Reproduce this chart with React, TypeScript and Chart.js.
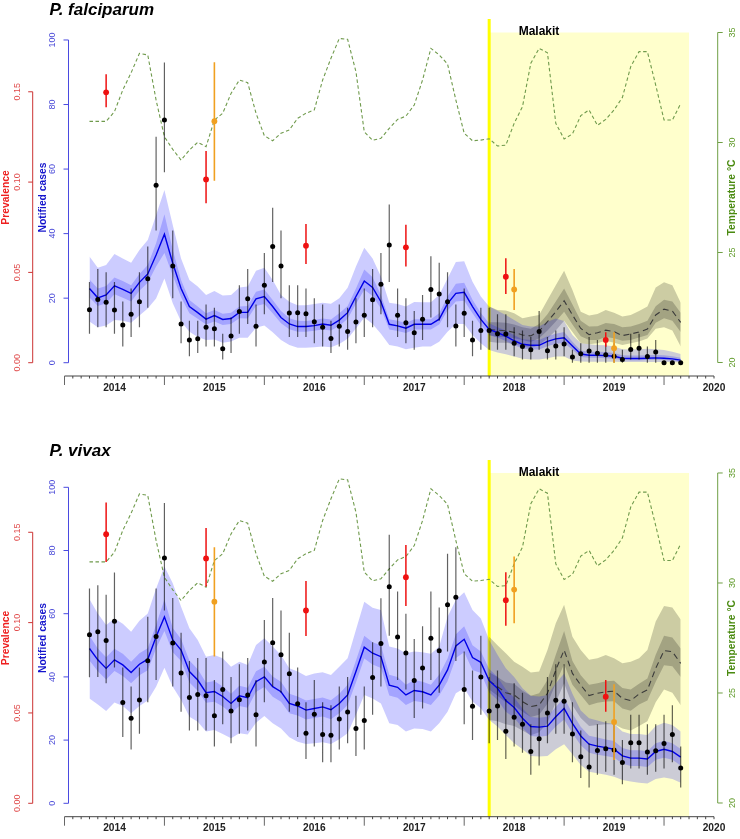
import { useEffect, useRef } from "react";
import { Chart, registerables } from "chart.js";

Chart.register(...registerables);

// monthly series, Oct 2013 to Sep 2019
const months = Array.from({ length: 72 }, (_, i) => 2013.75 + i / 12);
const yearLabels = [2014, 2015, 2016, 2017, 2018, 2019, 2020];
const caseTicks = [0, 20, 40, 60, 80, 100];
const prevTicks = ["0.00", "0.05", "0.10", "0.15"];
const tempTicks = [20, 25, 30, 35];
const interventionStart = 48;

const temperature = [
  30.96, 30.96, 30.96, 31.4, 32.39, 33.17, 34.05, 33.98, 31.93, 30.26, 29.69, 29.2,
  29.66, 30.01, 29.81, 31.02, 31.33, 32.23, 32.84, 32.72, 31.33, 30.31, 30.08, 30.42,
  30.57, 31.1, 31.33, 31.48, 32.84, 33.83, 34.73, 34.69, 33.22, 30.49, 30.1, 30.19,
  30.64, 31.05, 31.2, 31.7, 32.84, 34.28, 33.98, 33.57, 31.93, 30.42, 30.08, 30.11,
  30.17, 29.84, 29.88, 30.87, 31.63, 33.6, 34.28, 34.08, 30.87, 30.16, 30.39, 31.22,
  31.48, 30.78, 31.05, 31.48, 32.05, 33.45, 34.13, 34.13, 32.61, 31.02, 31.02, 31.77,
];

// P. falciparum
const falObserved = [
  16.4, 19.6, 18.7, 16.3, 11.7, 15, 18.9, 26, 55, 75.2, 30, 12,
  7, 7.4, 11, 10.5, 4.3, 8.3, 15.9, 19.8, 11.3, 24, 36, 30,
  15.4, 15.5, 15.2, 12.7, 11, 7.5, 11.3, 9.7, 12.6, 14.7, 19.5, 24.3,
  36.5, 14.7, 12.4, 9.3, 13.5, 22.7, 21.3, 18.9, 11.4, 15.3, 7, 10,
  10, 9, 8.9, 6, 5, 4, 9.7, 3.7, 5.2, 5.8, 1.8, 2.8,
  3.6, 2.9, 2.5, 2, 1, 4.1, 4.5, 1.9, 3.3, 0, 0, 0,
];
const falObservedHi = [
  25, 29, 28, 25, 19, 23, 28, 36, 70, 93, 41, 19,
  13, 13, 18, 17, 9, 14, 24, 29, 18, 34, 48, 41,
  24, 24, 23, 20, 18, 13, 18, 17, 20, 23, 29, 34,
  49, 23, 20, 16, 21, 33, 31, 28, 18, 23, 13, 17,
  17, 15, 15, 11, 10, 8, 16, 8, 10, 11, 4, 6,
  8, 7, 6, 6, 4, 9, 9, 5, 7, 0, 0, 0,
];
const falObservedLo = [
  9, 11, 11, 9, 5, 8, 11, 17, 41, 59, 20, 6,
  2, 3, 5, 5, 1, 3, 9, 12, 5, 15, 25, 20,
  8, 8, 8, 6, 5, 3, 5, 4, 6, 8, 11, 15,
  25, 8, 6, 4, 7, 14, 13, 11, 5, 8, 2, 4,
  4, 4, 4, 2, 1, 1, 4, 1, 1, 2, 0, 0,
  0, 0, 0, 0, 0, 1, 1, 0, 0, 0, 0, 0,
];
const falFit = [
  23, 20.1, 21, 23.8, 22.7, 21.5, 24.9, 27.5, 33.4, 39.8, 30.8, 23,
  17.4, 15.5, 13.5, 14.6, 13.4, 13.7, 15.6, 15.6, 19.8, 20.5, 17.4, 14,
  12, 11.2, 11.2, 11.5, 12, 11.6, 13.2, 15.5, 20.5, 25.3, 23.3, 18.9,
  11.9, 11.4, 10.7, 11.9, 11.9, 11.9, 13.5, 18.3, 21.5, 21.8, 17.4, 13.4,
  10.3, 9.3, 8.2, 6.8, 5.7, 5.4, 5.4, 6.6, 7.4, 7.7, 5.2, 2.7,
  2.3, 2.3, 2.2, 2, 1.4, 1.3, 1.3, 1.4, 1.5, 1.4, 1.2, 0.8,
];
const falOuterHi = [
  32.9, 29.4, 30.3, 33.7, 32.3, 31, 34.9, 38, 45.8, 53.5, 42.7, 32.3,
  25.6, 23.6, 21, 22.2, 20.8, 21, 23.3, 23.6, 28.5, 29.4, 25.6, 21,
  18.9, 17.8, 17.8, 18.2, 18.6, 18.3, 20, 23.2, 29.8, 35.6, 32.3, 26.7,
  18.6, 18.2, 17.4, 18.8, 18.7, 18.7, 21, 26.1, 31.2, 31.4, 25.1, 20.5,
  17.4, 16.1, 14.8, 13.2, 11.7, 11.2, 11.2, 12.7, 13.7, 12.9, 8.6, 6,
  5.7, 5.5, 5.4, 5, 4.2, 4.1, 4.2, 4.3, 4.2, 3.9, 3.4, 2.7,
];
const falOuterLo = [
  12.8, 11, 11.5, 13.2, 13, 12.4, 14.6, 16.8, 19.9, 26.1, 18.4, 12.8,
  9.6, 8, 7, 7.2, 6.2, 6.6, 7.7, 7.7, 10.8, 11.5, 9.4, 7,
  5.5, 4.6, 4.6, 4.8, 5, 4.8, 5.8, 7.4, 10.6, 14, 12, 9,
  5.5, 5, 4.2, 4.6, 5, 5, 6.5, 9.6, 12, 12, 8.6, 6,
  3.9, 3.2, 2.6, 1.9, 1.2, 1, 1, 1.4, 1.9, 1.9, 0.7, 0.4,
  0.3, 0.3, 0.3, 0.3, 0.2, 0.2, 0.2, 0.2, 0.2, 0.2, 0.2, 0.1,
];
const falInnerHi = [
  25.8, 23, 23.8, 26.4, 25.3, 24, 27.5, 30.3, 37, 46, 35, 25.6,
  19.4, 17.4, 15.3, 16.3, 15.2, 15.5, 17.4, 17.6, 22, 22.7, 19.4, 16,
  13.8, 13, 12.9, 13.2, 13.7, 13.4, 15.3, 17.6, 23, 28.9, 26.5, 21,
  13.5, 13, 12.3, 13.5, 13.5, 13.5, 15.3, 20.5, 24.5, 24.8, 19.5, 15.4,
  12.2, 11, 10, 8.5, 7.3, 7, 7, 8.2, 9, 9.5, 6.5, 3.8,
  3.4, 3.4, 3.3, 3, 2.3, 2.2, 2.2, 2.3, 2.4, 2.3, 2, 1.5,
];
const falInnerLo = [
  20.2, 17.6, 18.4, 21.2, 20.1, 19, 22.3, 24.8, 29.8, 34, 27, 20.3,
  15.3, 13.6, 11.8, 12.8, 11.7, 12, 13.8, 13.7, 17.6, 18.2, 15.3, 12.2,
  10.4, 9.6, 9.6, 9.9, 10.3, 10, 11.4, 13.6, 18.2, 22.6, 20.7, 16.8,
  10.3, 9.8, 9.2, 10.3, 10.3, 10.3, 11.8, 16.2, 19, 19.2, 15.3, 11.6,
  8.7, 7.8, 6.7, 5.4, 4.4, 4.1, 4.1, 5.1, 5.9, 6.1, 4, 1.8,
  1.5, 1.5, 1.4, 1.2, 0.8, 0.7, 0.7, 0.8, 0.9, 0.8, 0.6, 0.3,
];
// counterfactual without the intervention, Oct 2017 onwards
const falCounter = [
  10.3, 10.1, 9.9, 9.4, 8.6, 8.3, 9.8, 12.7, 15.8, 19.2, 14.8, 10.6,
  8.7, 9.3, 10.1, 9.6, 8.4, 8.9, 9.5, 10.4, 14.8, 16.6, 16, 12.5,
];
const falCounterOuterHi = [
  17.4, 16.3, 16.2, 15.3, 13.8, 14.3, 14.8, 19.4, 24, 28.5, 22.5, 15.8,
  14.6, 15.1, 16.3, 15.5, 14.3, 14.8, 16, 17.4, 23.3, 24.9, 24, 18.6,
];
const falCounterOuterLo = [
  6.5, 6.2, 6.2, 5.8, 5, 4.5, 5.5, 7.5, 10, 13, 9.5, 6,
  5.7, 6, 6.8, 6.2, 5.5, 6, 6.6, 7.5, 10.5, 11, 10, 5,
];
const falCounterInnerHi = [
  12.5, 12.5, 12.4, 11.8, 11, 10.5, 12, 15, 19, 23, 18, 13,
  11.2, 11.3, 12.3, 12, 11, 11.2, 12, 13, 17.5, 19.5, 19, 15.5,
];
const falCounterInnerLo = [
  8.4, 8, 8, 7.6, 7, 6.4, 7.6, 10, 12.8, 15.8, 11.8, 8.2,
  7, 7, 8, 7.6, 6.8, 7, 7.8, 8.6, 12.4, 13.8, 13, 9.5,
];
const surveyMonths = [2, 14, 26, 38, 50, 62];
const falSurvey = [0.1497, 0.1015, 0.0648, 0.0639, 0.0476, 0.0126];
const falSurveyHi = [0.1597, 0.1172, 0.0768, 0.0764, 0.0578, 0.0168];
const falSurveyLo = [0.1414, 0.0883, 0.0546, 0.0532, 0.038, 0.0089];
const secondSurveyMonths = [15, 51, 63];
const falSecond = [0.1337, 0.0406, 0.008];
const falSecondHi = [0.1663, 0.0519, 0.0168];
const falSecondLo = [0.1008, 0.0292, 0];

// P. vivax
const vivObserved = [
  53.3, 54.3, 51.5, 57.6, 31.9, 26.9, 32.7, 45.1, 52.8, 77.6, 50.7, 41.2,
  33.5, 34.4, 34, 27.7, 36, 29.2, 32.8, 34.3, 28, 44.7, 50.8, 47,
  41, 31.5, 22.2, 28.2, 21.8, 21.5, 26.7, 28.9, 23.7, 26.2, 39.8, 50.6,
  68.5, 52.6, 47.6, 38.9, 42.8, 52.2, 48.3, 62.8, 65.2, 36, 30.7, 40,
  29.2, 30.8, 22.8, 27.2, 25, 16.4, 20.4, 28.6, 32.6, 32.3, 21.9, 14.7,
  11.5, 16.7, 17.3, 16.9, 12.9, 19.2, 19.2, 16.2, 16.6, 18.9, 21.8, 11.2,
];
const vivObservedHi = [
  68, 69, 66, 73, 43, 37, 43, 59, 68, 95, 65, 54,
  45, 46, 46, 39, 48, 40, 44, 46, 39, 58, 65, 61,
  54, 43, 32, 39, 32, 31, 37, 40, 34, 37, 51, 64.9,
  85, 67, 60, 52, 56, 67, 62, 79, 81, 48, 42, 53,
  40, 42, 33, 38, 35, 25, 30, 40, 44, 44, 32, 23,
  19, 25, 26, 26, 20, 28, 28, 25, 25, 28, 31, 18,
];
const vivObservedLo = [
  39.9, 40, 38, 43, 21, 17, 22, 32, 39, 61, 37, 29,
  23, 23, 23, 18, 25, 19, 22, 23, 18, 32, 37, 35,
  29, 21, 14, 18, 13, 13, 17, 19, 15, 17, 28, 37,
  53, 39, 36, 27, 30, 39, 35, 48, 45, 25, 20, 28,
  19, 20, 14, 18, 16, 9, 12, 19, 22, 22, 13, 8,
  5, 9, 10, 9, 6, 11, 11, 9, 10, 11, 13, 5,
];
const vivFit = [
  49, 45.4, 42.7, 45.4, 43.8, 41.4, 44, 45.6, 52.7, 59, 51.7, 48.5,
  41.7, 39, 35, 35.4, 33.8, 31.6, 34, 33.4, 38.5, 40, 36.9, 35.3,
  31.6, 30.8, 29.5, 30, 30.5, 29.6, 31.6, 34.3, 41.7, 49.4, 47.5, 46.4,
  37.4, 36.7, 34.3, 35.7, 35.3, 34.3, 37.4, 42.2, 49.8, 51.9, 46.1, 44.6,
  38.8, 36.4, 32.5, 30.3, 26.9, 24.3, 24.1, 24.4, 27.4, 30, 25.3, 21.3,
  18.7, 18.1, 17.6, 17.1, 15, 14.3, 14.3, 14, 16.4, 17.1, 16.4, 14.6,
];
const vivOuterHi = [
  64.6, 60.1, 56.4, 58.5, 56.8, 54.3, 57.8, 60.1, 68, 74.9, 69.6, 62.2,
  55.4, 51.7, 46.4, 46.9, 45.9, 43.2, 44.8, 43.8, 50.1, 52.2, 49.6, 46.9,
  42.7, 41.7, 40.3, 41.1, 41.5, 40.6, 43.2, 45.9, 54.9, 63.8, 61.9, 61.2,
  49.6, 49, 47.5, 48, 47.8, 47.3, 49.6, 59, 64.3, 66.8, 61.2, 58.5,
  51.7, 47, 42.7, 40, 36.4, 34, 33.8, 34.3, 38, 41.1, 34.7, 29.4,
  26.9, 26.2, 25.5, 25.1, 22.7, 21.9, 21.9, 21.6, 24.5, 25.5, 24.8, 22.7,
];
const vivOuterLo = [
  33.2, 31.3, 29.2, 31.9, 30.8, 28.5, 30.8, 32.5, 36.9, 42.9, 36.9, 32.7,
  27.4, 25.8, 22.7, 23.2, 21.9, 20.6, 22.2, 21.8, 25.5, 27.6, 25.3, 23.7,
  20.9, 19.5, 18.8, 19, 19.3, 18.8, 20.3, 22.2, 28, 34.3, 33.2, 31.6,
  25.3, 24.8, 22.7, 23.7, 23.5, 22.7, 25.3, 29, 34.8, 36.4, 32.2, 30.1,
  26.4, 24.3, 21.6, 19, 17.1, 15, 14.8, 15, 17.1, 18.7, 15.5, 12.1,
  10, 9.5, 9, 8.4, 7.4, 6.9, 6.5, 6.3, 7.7, 8.2, 7.7, 6.5,
];
const vivInnerHi = [
  53, 49, 46.2, 48.9, 47.3, 44.8, 47.5, 49.1, 56.5, 64.5, 55.5, 52,
  45.2, 42.4, 38.2, 38.7, 37, 34.7, 37.2, 36.6, 41.8, 43.2, 40.1, 38.5,
  34.7, 33.8, 32.5, 33, 33.5, 32.6, 34.7, 37.5, 45.2, 53, 51, 50,
  40.7, 40, 37.5, 39, 38.5, 37.5, 40.7, 45.8, 53.5, 56, 50, 48,
  42.5, 40, 36, 33.5, 30, 27.3, 27.1, 27.4, 30.5, 33.5, 28.4, 24.2,
  21.4, 20.8, 20.2, 19.7, 17.5, 16.8, 16.8, 16.5, 19, 19.8, 19, 17.2,
];
const vivInnerLo = [
  45.2, 41.8, 39.2, 41.9, 40.3, 38, 40.5, 42.1, 49, 54.5, 47.8, 45,
  38.2, 35.6, 31.8, 32.1, 30.6, 28.5, 30.8, 30.2, 35.2, 36.8, 33.7, 32.1,
  28.5, 27.8, 26.5, 27, 27.5, 26.6, 28.5, 31.1, 38.2, 45.8, 43.9, 42.8,
  34.1, 33.4, 31.1, 32.4, 32, 31.1, 34.1, 38.6, 46, 47.8, 42.2, 41.2,
  35.1, 32.8, 29, 27.1, 23.8, 21.3, 21.1, 21.4, 24.3, 26.5, 22.2, 18.4,
  16, 15.4, 15, 14.5, 12.5, 11.8, 11.8, 11.5, 13.8, 14.4, 13.8, 12,
];
const vivCounter = [
  38.8, 36.9, 35, 34.3, 32.2, 30.6, 31.1, 34.8, 42.2, 48.5, 41.1, 37.4,
  34.1, 34.8, 35.3, 35.5, 33.2, 32.5, 34.6, 35.9, 42.7, 48.3, 48, 44.3,
];
const vivCounterOuterHi = [
  52.7, 50, 47.5, 44.8, 43.2, 41.4, 41.7, 48.5, 57, 62.8, 52.7, 48.5,
  45.4, 45.9, 46.9, 45.9, 44.3, 44.8, 45.9, 48.5, 57.5, 62.4, 62, 58.2,
];
const vivCounterOuterLo = [
  26.4, 26, 25, 24.5, 23, 21.5, 22.5, 25.5, 32, 38, 31, 27,
  24.5, 24.8, 25, 25, 23.7, 23, 24.5, 26, 32, 36, 35, 31,
];
const vivCounterInnerHi = [
  41.5, 40, 38.2, 37.8, 35.6, 34, 34.8, 39, 47, 54.5, 45, 40.5,
  37.5, 38, 38.6, 38.8, 36.5, 36, 37.8, 39.5, 47, 53, 52.5, 49,
];
const vivCounterInnerLo = [
  36, 34, 32, 31, 29, 27.3, 28, 31.5, 38, 44, 37.5, 34.3,
  31, 31.8, 32.2, 32.3, 30, 29.3, 31.3, 32.5, 38.5, 43.7, 43.4, 40,
];
const vivSurvey = [0.1489, 0.1355, 0.1067, 0.1251, 0.1124, 0.059];
const vivSurveyHi = [0.1665, 0.1524, 0.1231, 0.143, 0.1279, 0.0683];
const vivSurveyLo = [0.1336, 0.12, 0.0926, 0.1092, 0.0982, 0.0506];
const vivSecond = [0.1116, 0.1183, 0.045];
const vivSecondHi = [0.1417, 0.1366, 0.0659];
const vivSecondLo = [0.0812, 0.0997, 0.024];

const FONT = '"Liberation Sans", Arial, sans-serif';
const RED = "#ee1111";
const ORANGE = "#f0a020";
const BLUE = "#0000e6";
const BAND_BLUE = "rgba(0,0,255,0.2)";
const BAND_GREY = "rgba(0,0,0,0.2)";

function pts(idx: number[], ys: number[]) {
  return idx.map((m, k) => ({ x: months[m], y: ys[k] }));
}

function whiskers(idx: number[], lo: number[], hi: number[]) {
  return idx.flatMap((m, k) => [
    { x: months[m], y: lo[k] },
    { x: months[m], y: hi[k] },
    { x: months[m], y: null },
  ]);
}

const allIdx = months.map((_, i) => i);
const counterIdx = allIdx.slice(interventionStart);

function band(idx: number[], hi: number[], lo: number[], color: string) {
  const base = { type: "line", yAxisID: "yCases", pointRadius: 0, borderWidth: 0, tension: 0 };
  return [
    { ...base, data: pts(idx, hi), fill: "+1", backgroundColor: color, borderColor: "transparent" },
    { ...base, data: pts(idx, lo), fill: false, borderColor: "transparent" },
  ];
}

function dots(idx: number[], ys: number[], axis: string, color: string, r: number) {
  return {
    type: "line",
    yAxisID: axis,
    data: pts(idx, ys),
    showLine: false,
    pointRadius: r,
    pointBackgroundColor: color,
    pointBorderWidth: 0,
  };
}

function bars(idx: number[], lo: number[], hi: number[], axis: string, color: string, w: number) {
  return {
    type: "line",
    yAxisID: axis,
    data: whiskers(idx, lo, hi),
    pointRadius: 0,
    borderColor: color,
    borderWidth: w,
    spanGaps: false,
    fill: false,
  };
}

const falData = {
  observed: falObserved, observedHi: falObservedHi, observedLo: falObservedLo, fit: falFit,
  outerHi: falOuterHi, outerLo: falOuterLo, innerHi: falInnerHi, innerLo: falInnerLo,
  counter: falCounter, cOuterHi: falCounterOuterHi, cOuterLo: falCounterOuterLo,
  cInnerHi: falCounterInnerHi, cInnerLo: falCounterInnerLo,
  survey: falSurvey, surveyHi: falSurveyHi, surveyLo: falSurveyLo,
  second: falSecond, secondHi: falSecondHi, secondLo: falSecondLo,
};
const vivData = {
  observed: vivObserved, observedHi: vivObservedHi, observedLo: vivObservedLo, fit: vivFit,
  outerHi: vivOuterHi, outerLo: vivOuterLo, innerHi: vivInnerHi, innerLo: vivInnerLo,
  counter: vivCounter, cOuterHi: vivCounterOuterHi, cOuterLo: vivCounterOuterLo,
  cInnerHi: vivCounterInnerHi, cInnerLo: vivCounterInnerLo,
  survey: vivSurvey, surveyHi: vivSurveyHi, surveyLo: vivSurveyLo,
  second: vivSecond, secondHi: vivSecondHi, secondLo: vivSecondLo,
};

// first dataset ends up on top in chart.js
function buildDatasets(d: typeof falData) {
  return [
    dots(surveyMonths, d.survey, "yPrev", RED, 2.9),
    bars(surveyMonths, d.surveyLo, d.surveyHi, "yPrev", RED, 1.5),
    dots(secondSurveyMonths, d.second, "yPrev", ORANGE, 2.9),
    bars(secondSurveyMonths, d.secondLo, d.secondHi, "yPrev", ORANGE, 1.6),
    dots(allIdx, d.observed, "yCases", "#000", 2.5),
    bars(allIdx, d.observedLo, d.observedHi, "yCases", "rgba(0,0,0,0.62)", 1.2),
    {
      type: "line",
      yAxisID: "yTemp",
      data: pts(allIdx, temperature),
      borderColor: "#6f9a4c",
      borderWidth: 1.1,
      borderDash: [3.5, 2.5],
      pointRadius: 0,
      fill: false,
    },
    {
      type: "line",
      yAxisID: "yCases",
      data: pts(allIdx, d.fit),
      borderColor: BLUE,
      borderWidth: 1.4,
      pointRadius: 0,
      fill: false,
    },
    {
      type: "line",
      yAxisID: "yCases",
      data: pts(counterIdx, d.counter),
      borderColor: "#3a3a3a",
      borderWidth: 1.1,
      borderDash: [6, 4],
      pointRadius: 0,
      fill: false,
    },
    ...band(allIdx, d.innerHi, d.innerLo, BAND_BLUE),
    ...band(allIdx, d.outerHi, d.outerLo, BAND_BLUE),
    ...band(counterIdx, d.cInnerHi, d.cInnerLo, BAND_GREY),
    ...band(counterIdx, d.cOuterHi, d.cOuterLo, BAND_GREY),
  ];
}

function rotatedText(ctx: CanvasRenderingContext2D, s: string, x: number, y: number) {
  ctx.save();
  ctx.translate(x, y);
  ctx.rotate(-Math.PI / 2);
  ctx.textAlign = "center";
  ctx.textBaseline = "middle";
  ctx.fillText(s, 0, 0);
  ctx.restore();
}

function yAxis(
  ctx: CanvasRenderingContext2D,
  scale: any,
  values: (number | string)[],
  axisX: number,
  tick: number,
  labelX: number,
  color: string,
  textColor: string,
) {
  const ys = values.map((v) => scale.getPixelForValue(Number(v)));
  ctx.strokeStyle = color;
  ctx.lineWidth = 1;
  ctx.beginPath();
  ctx.moveTo(axisX, ys[0]);
  ctx.lineTo(axisX, ys[ys.length - 1]);
  ys.forEach((y) => {
    ctx.moveTo(axisX, y);
    ctx.lineTo(axisX + tick, y);
  });
  ctx.stroke();
  ctx.fillStyle = textColor;
  ctx.font = `9px ${FONT}`;
  values.forEach((v, i) => rotatedText(ctx, String(v), labelX, ys[i]));
}

function makeDecor(title: string, titleY: number, midY: number) {
  return {
    id: "decor",
    beforeDatasetsDraw(chart: any) {
      const { ctx, scales, chartArea } = chart;
      const left = scales.x.getPixelForValue(months[interventionStart]);
      const right = scales.x.getPixelForValue(2019.75);
      const top = scales.yTemp.getPixelForValue(35);
      ctx.save();
      ctx.fillStyle = "#ffffcc";
      ctx.fillRect(left, top, right - left, chartArea.bottom - top);
      ctx.fillStyle = "#ffff00";
      ctx.fillRect(left - 1.5, chartArea.top, 3, chartArea.bottom - chartArea.top);
      ctx.restore();
    },
    afterDatasetsDraw(chart: any) {
      const { ctx, scales, chartArea } = chart;
      ctx.save();

      // x axis, R style: monthly ticks with longer ones mid-year
      const b = chartArea.bottom;
      ctx.lineWidth = 1;
      ctx.strokeStyle = "#444";
      ctx.beginPath();
      ctx.moveTo(scales.x.left, b);
      ctx.lineTo(scales.x.right, b);
      for (let m = 0; m <= 78; m++) {
        if (m % 12 === 0 && m < 78) continue;
        const px = scales.x.getPixelForValue(2013.5 + m / 12);
        ctx.moveTo(px, b);
        ctx.lineTo(px, b + 2.5);
      }
      ctx.stroke();
      ctx.strokeStyle = "#666";
      ctx.beginPath();
      for (let m = 0; m < 78; m += 12) {
        const px = scales.x.getPixelForValue(2013.5 + m / 12);
        ctx.moveTo(px, b);
        ctx.lineTo(px, b + 9);
      }
      ctx.stroke();
      ctx.fillStyle = "#222";
      ctx.font = `bold 10.2px ${FONT}`;
      ctx.textAlign = "center";
      ctx.textBaseline = "middle";
      yearLabels.forEach((yr) => ctx.fillText(String(yr), scales.x.getPixelForValue(yr), b + 11.8));

      yAxis(ctx, scales.yPrev, prevTicks, 32.7, -4.5, 17.3, "#cc3333", "#e04a4a");
      yAxis(ctx, scales.yCases, caseTicks, 68.5, -5, 53, "#4a4ae0", "#4a4ad8");
      yAxis(ctx, scales.yTemp, tempTicks, 717.7, 5, 732.5, "#6f9f45", "#5f9a28");

      ctx.font = `bold 10.3px ${FONT}`;
      ctx.fillStyle = "#ee2020";
      rotatedText(ctx, "Prevalence", 6, midY);
      ctx.fillStyle = "#1414cc";
      rotatedText(ctx, "Notified cases", 42.7, midY);
      ctx.fillStyle = "#4a8a10";
      rotatedText(ctx, "Temperature °C", 732, midY);

      ctx.fillStyle = "#000";
      ctx.font = `bold 12px ${FONT}`;
      ctx.textAlign = "center";
      ctx.fillText("Malakit", 539, scales.yTemp.getPixelForValue(35) - 0.5);
      ctx.font = `italic bold 17px ${FONT}`;
      ctx.textAlign = "left";
      ctx.fillText(title, 49.5, titleY);
      ctx.restore();
    },
  };
}

function Panel({ top, height, padding, title, titleY, midY, ranges, data }: any) {
  const canvasRef = useRef<HTMLCanvasElement | null>(null);

  useEffect(() => {
    if (!canvasRef.current) return;
    const hidden = (r: number[]) => ({
      type: "linear" as const,
      display: false,
      min: r[0],
      max: r[1],
    });
    const chart = new Chart(canvasRef.current, {
      type: "line",
      data: { datasets: buildDatasets(data) as any },
      options: {
        animation: false,
        responsive: false,
        devicePixelRatio: 1,
        layout: { padding },
        plugins: { legend: { display: false }, tooltip: { enabled: false } },
        scales: {
          x: { type: "linear", display: false, min: 2013.5, max: 2020, offset: false },
          yCases: hidden(ranges.cases),
          yPrev: hidden(ranges.prev),
          yTemp: hidden(ranges.temp),
        },
      },
      plugins: [makeDecor(title, titleY, midY)],
    });
    return () => chart.destroy();
    // eslint-disable-next-line react-hooks/exhaustive-deps
  }, []);

  return (
    <canvas
      ref={canvasRef}
      width={740}
      height={height}
      style={{ position: "absolute", left: 0, top, display: "block" }}
    />
  );
}

export default function App() {
  return (
    <div style={{ position: "absolute", left: 0, top: 0, width: 740, height: 839, overflow: "hidden", background: "#fff" }}>
      <Panel
        top={0}
        height={420}
        padding={{ left: 64.5, right: 26, top: 19, bottom: 44 }}
        title="P. falciparum"
        titleY={10}
        midY={197.5}
        ranges={{ cases: [-4.12, 106.5], prev: [-0.00736, 0.1903], temp: [19.386, 35.614] }}
        data={falData}
      />
      <Panel
        top={420}
        height={419}
        padding={{ left: 64.5, right: 26, top: 40, bottom: 22.3 }}
        title="P. vivax"
        titleY={31.7}
        midY={218}
        ranges={{ cases: [-4.24, 108.64], prev: [-0.00742, 0.19], temp: [19.377, 35.59] }}
        data={vivData}
      />
    </div>
  );
}
